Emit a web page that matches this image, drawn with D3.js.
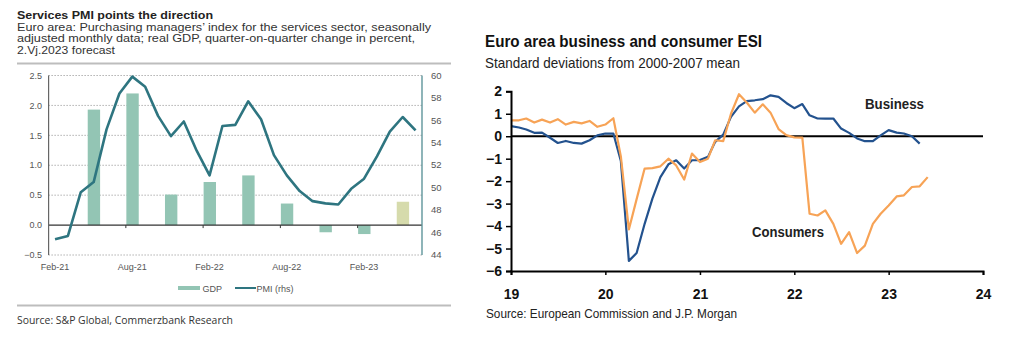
<!DOCTYPE html>
<html>
<head>
<meta charset="utf-8">
<script src="https://cdn.jsdelivr.net/npm/d3@7"></script>
<style>
body { margin: 0; background: #fff; }
svg { display: block; }
.lft { font-family: "Open Sans", Lato, sans-serif; }
.ax { font-family: "Liberation Sans", Arial, sans-serif; }
.nar { font-family: "Liberation Sans Narrow", "Arial Narrow", "Liberation Sans", sans-serif; }
</style>
</head>
<body>
<div id="chart"></div>
<script>
// ---- left panel: services PMI and GDP ----
var pmiStart = new Date(2021, 1, 1);
var pmiValues = [45.4, 45.7, 49.6, 50.5, 55.2, 58.4, 59.9, 59.0, 56.4, 54.6, 55.9, 53.3,
	51.1, 55.5, 55.6, 57.7, 56.1, 52.9, 51.1, 49.7, 48.8, 48.6, 48.5, 49.9,
	50.8, 52.8, 55.0, 56.3, 55.1];
var gdpMonths = ["May-21", "Aug-21", "Nov-21", "Feb-22", "May-22", "Aug-22", "Nov-22", "Feb-23", "May-23"];
var gdpValues = [1.93, 2.2, 0.51, 0.72, 0.83, 0.36, -0.12, -0.15, 0.39];
var gdpForecast = [false, false, false, false, false, false, false, false, true];
var pmiTicksLeft = [-0.5, 0, 0.5, 1, 1.5, 2, 2.5];
var pmiTicksRight = [44, 46, 48, 50, 52, 54, 56, 58, 60];
var pmiTickLabels = ["Feb-21", "Aug-21", "Feb-22", "Aug-22", "Feb-23"];

// ---- right panel: ESI ----
var esiStart = new Date(2019, 0, 1);
var business = [0.45, 0.39, 0.30, 0.15, 0.16, -0.07, -0.30, -0.21, -0.30, -0.33, -0.18, 0.04,
	0.12, 0.12, -1.1, -5.55, -5.2, -3.9, -2.78, -1.82, -1.25, -1.07, -1.44, -1.07,
	-1.06, -0.92, -0.25, 0.07, 0.86, 1.33, 1.56, 1.6, 1.65, 1.82, 1.75, 1.48,
	1.25, 1.43, 0.93, 0.79, 0.78, 0.79, 0.34, 0.15, -0.1, -0.22, -0.22, 0.04,
	0.27, 0.16, 0.12, 0.0, -0.33];
var consumers = [0.71, 0.71, 0.79, 0.61, 0.74, 0.61, 0.76, 0.52, 0.64, 0.57, 0.68, 0.42,
	0.52, 0.80, -0.9, -4.15, -2.8, -1.44, -1.42, -1.34, -1.0, -1.3, -1.93, -0.77,
	-1.15, -1.0, -0.18, -0.22, 1.0, 1.87, 1.5, 1.05, 1.42, 1.05, 0.32, 0.05,
	-0.05, -0.06, -3.45, -3.53, -3.3, -3.9, -4.79, -4.27, -5.2, -4.87, -3.9, -3.45,
	-3.08, -2.68, -2.63, -2.26, -2.23, -1.82];
var esiYTicks = [-6, -5, -4, -3, -2, -1, 0, 1, 2];
var esiXTicks = [2019, 2020, 2021, 2022, 2023, 2024];

var svg = d3.select('#chart').append('svg')
	.attr('width', 1024).attr('height', 338);

drawPmi(svg.append('g'));
drawEsi(svg.append('g'));

// squeeze a text to the width it has in the original
function fit(sel, w) {
	return sel.attr('textLength', w).attr('lengthAdjust', 'spacingAndGlyphs');
}

function drawPmi(g) {
	var fmt = d3.timeFormat('%b-%y');
	var months = d3.range(pmiValues.length).map(function (i) {
		return fmt(d3.timeMonth.offset(pmiStart, i));
	});

	var x = d3.scaleBand().domain(months).range([48.6, 422]).padding(0);
	var yl = d3.scaleLinear().domain([-0.5, 2.5]).range([255, 75.5]);
	var yr = d3.scaleLinear().domain([44, 60]).range([255, 75.5]);

	// header: title plus three tightly set subtitle lines
	var head = [
		{ t: 'Services PMI points the direction', y: 19, w: 196, b: true },
		{ t: 'Euro area: Purchasing managers\u2019 index for the services sector, seasonally', y: 31, w: 414 },
		{ t: 'adjusted monthly data; real GDP, quarter-on-quarter change in percent,', y: 42.4, w: 398 },
		{ t: '2.Vj.2023 forecast', y: 53.8, w: 98 }
	];
	g.selectAll('text.head').data(head).enter().append('text')
		.attr('class', 'ax head')
		.attr('x', 17).attr('y', function (d) { return d.y; })
		.attr('font-size', function (d) { return d.b ? 11.5 : 10; })
		.attr('font-weight', function (d) { return d.b ? 'bold' : null; })
		.attr('fill', function (d) { return d.b ? '#222' : '#333'; })
		.attr('textLength', function (d) { return d.w; })
		.attr('lengthAdjust', 'spacingAndGlyphs')
		.text(function (d) { return d.t; });
	g.append('line').attr('x1', 17).attr('x2', 451).attr('y1', 63.5).attr('y2', 63.5)
		.attr('stroke', '#bdbdbd').attr('stroke-width', 2);

	// grid
	g.selectAll('line.grid').data(pmiTicksLeft.filter(function (d) { return d !== 0; }))
		.enter().append('line').attr('class', 'grid')
		.attr('x1', 48.6).attr('x2', 422)
		.attr('y1', function (d) { return yl(d); }).attr('y2', function (d) { return yl(d); })
		.attr('stroke', '#8a8a8a').attr('stroke-width', 1).attr('stroke-dasharray', '1,2');

	// bars
	g.selectAll('rect.gdp').data(gdpValues).enter().append('rect')
		.attr('class', 'gdp')
		.attr('x', function (d, i) { return x(gdpMonths[i]) + 0.5; })
		.attr('width', x.bandwidth() - 0.5)
		.attr('y', function (d) { return yl(Math.max(0, d)); })
		.attr('height', function (d) { return Math.abs(yl(d) - yl(0)); })
		.attr('fill', function (d, i) { return gdpForecast[i] ? '#d6dbac' : '#93c5b4'; });

	// zero line and ticks
	g.append('line').attr('x1', 48.6).attr('x2', 422).attr('y1', yl(0)).attr('y2', yl(0))
		.attr('stroke', '#333').attr('stroke-width', 1.2);
	g.selectAll('line.xt').data(pmiTickLabels.slice(1)).enter().append('line')
		.attr('x1', function (d, i) { return x(months[(i + 1) * 6]); })
		.attr('x2', function (d, i) { return x(months[(i + 1) * 6]); })
		.attr('y1', yl(0)).attr('y2', yl(0) + 3).attr('stroke', '#333');

	// axes lines
	g.append('line').attr('x1', 48.6).attr('x2', 48.6).attr('y1', 75.5).attr('y2', 255)
		.attr('stroke', '#666').attr('stroke-width', 1.2);
	g.append('line').attr('x1', 422).attr('x2', 422).attr('y1', 75.5).attr('y2', 255)
		.attr('stroke', '#5f959b').attr('stroke-width', 1.4);

	g.selectAll('text.yl').data(pmiTicksLeft).enter().append('text')
		.attr('class', 'ax').attr('x', 42).attr('y', function (d) { return yl(d) + 3.2; })
		.attr('text-anchor', 'end').attr('font-size', 9).attr('fill', '#555')
		.text(d3.format('.1f'));
	g.selectAll('text.yr').data(pmiTicksRight).enter().append('text')
		.attr('class', 'ax').attr('x', 431).attr('y', function (d) { return yr(d) + 3.2; })
		.attr('font-size', 9.5).attr('fill', '#555')
		.text(function (d) { return d; });
	g.selectAll('text.xl').data(pmiTickLabels).enter().append('text')
		.attr('class', 'ax')
		.attr('x', function (d, i) { return x(months[i * 6]) + x.bandwidth() / 2; })
		.attr('y', 270).attr('text-anchor', 'middle').attr('font-size', 9).attr('fill', '#555')
		.text(function (d) { return d; });

	var line = d3.line()
		.x(function (d, i) { return x(months[i]) + x.bandwidth() / 2; })
		.y(function (d) { return yr(d); });
	g.append('path').datum(pmiValues).attr('d', line)
		.attr('fill', 'none').attr('stroke', '#2e7580').attr('stroke-width', 2.6)
		.attr('stroke-linejoin', 'round');

	// legend
	g.append('rect').attr('x', 178).attr('y', 286).attr('width', 22).attr('height', 4).attr('fill', '#93c5b4');
	g.append('text').attr('class', 'ax').attr('x', 202.5).attr('y', 291.5).attr('font-size', 9).attr('fill', '#555').text('GDP');
	g.append('line').attr('x1', 235).attr('x2', 256).attr('y1', 288).attr('y2', 288).attr('stroke', '#2e7580').attr('stroke-width', 2);
	g.append('text').attr('class', 'ax').attr('x', 256.5).attr('y', 291.5).attr('font-size', 9).attr('fill', '#555').text('PMI (rhs)');

	g.append('line').attr('x1', 17).attr('x2', 451).attr('y1', 305.5).attr('y2', 305.5)
		.attr('stroke', '#bdbdbd').attr('stroke-width', 2);
	fit(g.append('text').attr('class', 'lft').attr('x', 17).attr('y', 324)
		.attr('font-size', 10.3).attr('fill', '#333')
		.text('Source: S&P Global, Commerzbank Research'), 216);
}

function drawEsi(g) {
	var x = d3.scaleTime().domain([new Date(2019, 0, 1), new Date(2024, 0, 1)]).range([511, 983]);
	var y = d3.scaleLinear().domain([-6, 2]).range([271, 91.3]);
	var dateOf = function (i) { return d3.timeMonth.offset(esiStart, i); };

	fit(g.append('text').attr('class', 'nar').attr('x', 485).attr('y', 47)
		.attr('font-size', 17).attr('font-weight', 'bold').attr('fill', '#111')
		.text('Euro area business and consumer ESI'), 277);
	fit(g.append('text').attr('class', 'nar').attr('x', 485).attr('y', 68)
		.attr('font-size', 14.5).attr('fill', '#222')
		.text('Standard deviations from 2000-2007 mean'), 255);

	var line = d3.line()
		.x(function (d, i) { return x(dateOf(i)); })
		.y(function (d) { return y(d); });

	g.append('line').attr('x1', 511).attr('x2', 983).attr('y1', y(0)).attr('y2', y(0))
		.attr('stroke', '#000').attr('stroke-width', 2);

	g.append('path').datum(business).attr('d', line)
		.attr('fill', 'none').attr('stroke', '#23528e').attr('stroke-width', 2.2)
		.attr('stroke-linejoin', 'round');
	g.append('path').datum(consumers).attr('d', line)
		.attr('fill', 'none').attr('stroke', '#f7a356').attr('stroke-width', 2.2)
		.attr('stroke-linejoin', 'round');

	// y axis
	var ya = g.append('g').attr('transform', 'translate(511,0)')
		.call(d3.axisLeft(y).tickValues(esiYTicks).tickSize(5).tickFormat(d3.format('d')));
	ya.select('.domain').attr('stroke', '#000').attr('stroke-width', 2);
	ya.selectAll('.tick line').attr('stroke', '#000').attr('stroke-width', 1.5);
	ya.selectAll('.tick text').attr('class', 'nar').attr('font-size', 14).attr('font-weight', 'bold')
		.attr('fill', '#111').attr('x', -9);

	var xa = g.append('g').attr('transform', 'translate(0,' + 271 + ')')
		.call(d3.axisBottom(x).tickValues(esiXTicks.map(function (d) { return new Date(d, 0, 1); }))
			.tickSize(4).tickFormat(d3.timeFormat('%y')));
	xa.select('.domain').attr('stroke', '#000').attr('stroke-width', 2);
	xa.selectAll('.tick line').attr('stroke', '#000').attr('stroke-width', 1.5);
	xa.selectAll('.tick text').attr('class', 'nar').attr('font-size', 14).attr('font-weight', 'bold')
		.attr('fill', '#111').attr('dy', null).attr('y', 28);

	fit(g.append('text').attr('class', 'nar').attr('x', 865).attr('y', 109)
		.attr('font-size', 14.5).attr('font-weight', 'bold').attr('fill', '#222').text('Business'), 59);
	fit(g.append('text').attr('class', 'nar').attr('x', 752).attr('y', 237)
		.attr('font-size', 14.5).attr('font-weight', 'bold').attr('fill', '#222').text('Consumers'), 72);

	fit(g.append('text').attr('class', 'nar').attr('x', 486).attr('y', 318)
		.attr('font-size', 13.5).attr('fill', '#222')
		.text('Source: European Commission and J.P. Morgan'), 251);
}
</script>
</body>
</html>
